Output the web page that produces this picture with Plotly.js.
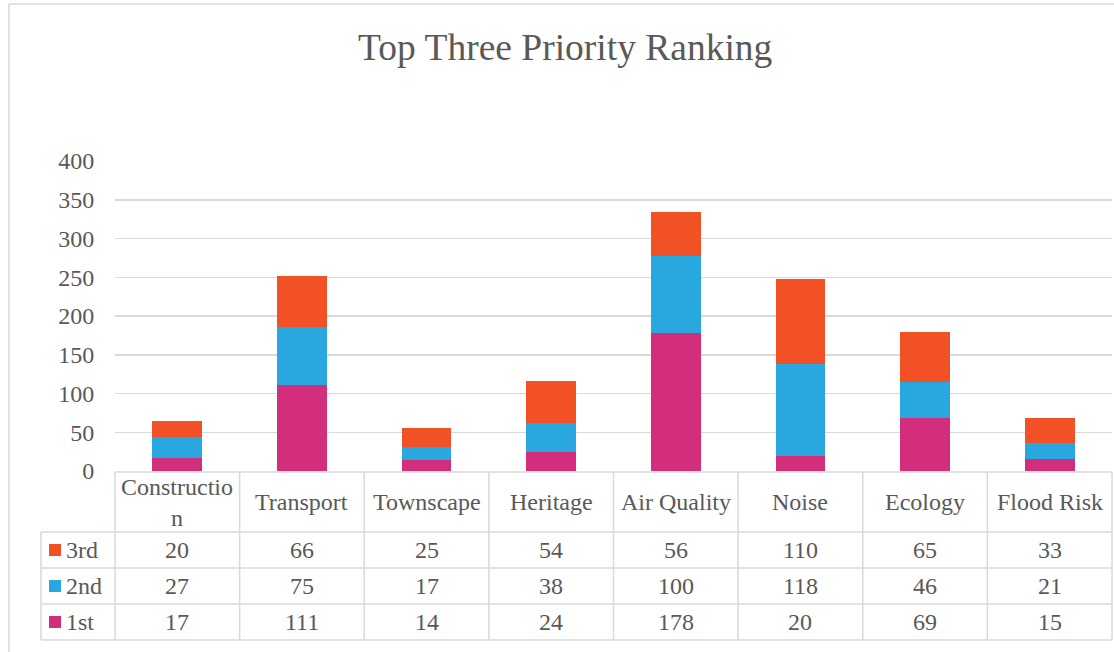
<!DOCTYPE html>
<html>
<head>
<meta charset="utf-8">
<script src="https://cdn.plot.ly/plotly-3.0.1.min.js"></script>
<style>html,body{margin:0;padding:0;background:#fff;}#chart{width:1114px;height:652px;}</style>
</head>
<body>
<div id="chart"></div>
<script>
var categories = ["Construction","Transport","Townscape","Heritage","Air Quality","Noise","Ecology","Flood Risk"];
var categoryLabels = ["Constructio<br>n","Transport","Townscape","Heritage","Air Quality","Noise","Ecology","Flood Risk"];
var seriesNames = ["3rd","2nd","1st"];
var third = [20,66,25,54,56,110,65,33];
var second = [27,75,17,38,100,118,46,21];
var first = [17,111,14,24,178,20,69,15];
var yTicks = [0,50,100,150,200,250,300,350,400];
var chartTitle = "Top Three Priority Ranking";

var colors = {"3rd":"#F15124","2nd":"#29A8E0","1st":"#D22E7B"};
var seriesValues = {"3rd":third,"2nd":second,"1st":first};

var W = 1114, H = 652;
var L = 115, R = 1112, T = 161, B = 471;
function px(x){ return (x - L) / (R - L); }
function py(y){ return (B - y) / (B - T); }
var font = "Liberation Serif, Times New Roman, serif";
var txt = "#595959";
var grid = "#d9d9d9";
var fs = 24;

var traces = ["1st","2nd","3rd"].map(function(n){
  return {type:"bar", name:n, x:categories, y:seriesValues[n],
    marker:{color:colors[n], line:{width:0}}, hoverinfo:"x+y+name"};
});

var shapes = [];
var annotations = [];
function hline(y, x0, x1){ shapes.push({type:"line", xref:"paper", yref:"paper", x0:px(x0), x1:px(x1), y0:py(y), y1:py(y), line:{color:grid, width:1.5}}); }
function vline(x, y0, y1){ shapes.push({type:"line", xref:"paper", yref:"paper", x0:px(x), x1:px(x), y0:py(y0), y1:py(y1), line:{color:grid, width:1.5}}); }

// chart outer border
hline(4, 9, 1114);
vline(9, 4, 652);

// data table
var colW = (R - L) / categories.length;
var rowTops = [532, 568, 604];
var rowH = 36;
hline(472, L, R);
[532, 568, 604, 640].forEach(function(y){ hline(y, 41, R); });
vline(41, 532, 640);
for (var k = 0; k <= categories.length; k++) vline(L + k*colW, 472, 640);

categories.forEach(function(c, i){
  var cx = L + (i + 0.5) * colW;
  annotations.push({xref:"paper", yref:"paper", x:px(cx), y:py(502), text:categoryLabels[i],
    showarrow:false, xanchor:"center", yanchor:"middle", font:{family:font, size:fs, color:txt}});
  seriesNames.forEach(function(n, r){
    annotations.push({xref:"paper", yref:"paper", x:px(cx), y:py(rowTops[r] + rowH/2), text:String(seriesValues[n][i]),
      showarrow:false, xanchor:"center", yanchor:"middle", font:{family:font, size:fs, color:txt}});
  });
});
seriesNames.forEach(function(n, r){
  var cy = rowTops[r] + rowH/2;
  shapes.push({type:"rect", xref:"paper", yref:"paper", x0:px(49), x1:px(61), y0:py(cy-6), y1:py(cy+6),
    fillcolor:colors[n], line:{width:0}});
  annotations.push({xref:"paper", yref:"paper", x:px(64), y:py(cy), text:n, showarrow:false,
    xanchor:"left", yanchor:"middle", font:{family:font, size:fs, color:txt}});
});

// title
annotations.push({xref:"paper", yref:"paper", x:px(565), y:py(47), text:chartTitle, showarrow:false,
  xanchor:"center", yanchor:"middle", font:{family:font, size:37.5, color:txt}});

var layout = {
  width:W, height:H,
  margin:{l:L, r:W-R, t:T, b:H-B, pad:0},
  paper_bgcolor:"#fff", plot_bgcolor:"#fff",
  barmode:"stack", bargap:0.6,
  showlegend:false,
  xaxis:{showticklabels:false, showgrid:false, zeroline:false, showline:false, ticks:"", fixedrange:true},
  yaxis:{range:[0,400], tickvals:yTicks, ticktext:yTicks.map(String), showgrid:true, gridcolor:grid, gridwidth:1.5,
    zeroline:false, showline:false, ticks:"outside", ticklen:15, tickcolor:"rgba(0,0,0,0)",
    tickfont:{family:font, size:fs, color:txt}, fixedrange:true},
  shapes:shapes, annotations:annotations
};
Plotly.newPlot("chart", traces, layout, {displayModeBar:false, staticPlot:true});
</script>
</body>
</html>
